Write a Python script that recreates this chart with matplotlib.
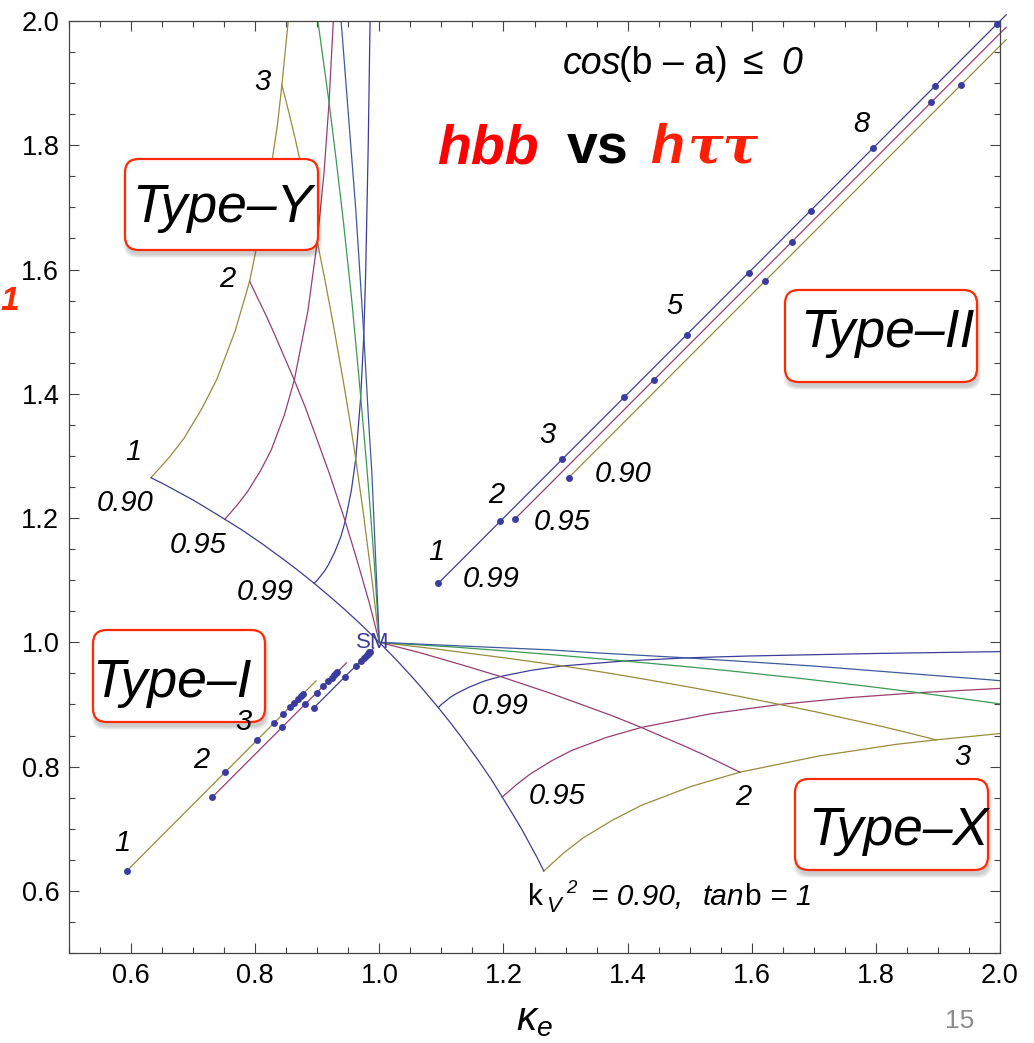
import matplotlib.pyplot as plt
from matplotlib.patches import FancyBboxPatch
from matplotlib.ticker import MultipleLocator, FormatStrFormatter

plt.rcParams['font.family'] = ['Liberation Sans', 'DejaVu Sans']
plt.rcParams['mathtext.fontset'] = 'custom'
plt.rcParams['mathtext.rm'] = 'Liberation Sans'
plt.rcParams['mathtext.it'] = 'Liberation Sans:italic'
plt.rcParams['mathtext.bf'] = 'Liberation Sans:bold'

# Mathematica-style default plot colours
BLUE = '#3d3d99'
MAGENTA = '#993d71'
OLIVE = '#998b3d'
GREEN = '#3d9954'
STEEL = '#3d5b99'
DOT = '#3c3c9e'
BOXRED = '#ff2a00'

# fixed kV^2 curves, tanb running up from 1: coupling below 1 / above 1
kv099_lo = [0.895, 0.900, 0.904, 0.912, 0.918, 0.928, 0.938, 0.945, 0.955, 0.962,
            0.970, 0.975, 0.978, 0.982, 0.985, 0.985]
kv099_hi = [1.095, 1.100, 1.105, 1.115, 1.125, 1.145, 1.170, 1.195, 1.245, 1.295,
            1.395, 1.495, 1.595, 1.795, 1.995, 2.025]
kv095_lo = [0.751, 0.771, 0.788, 0.809, 0.826, 0.847, 0.863, 0.885, 0.900, 0.911, 0.919, 0.926]
kv095_hi = [1.198, 1.221, 1.243, 1.277, 1.310, 1.366, 1.422, 1.534, 1.645, 1.757, 1.869, 2.003]
kv090_lo = [0.632, 0.661, 0.685, 0.714, 0.738, 0.768, 0.791, 0.817, 0.836, 0.843, 0.854]
kv090_hi = [1.265, 1.297, 1.328, 1.376, 1.423, 1.502, 1.581, 1.708, 1.834, 1.897, 2.008]

# fixed tanb curves, kV^2 running down from 1 (SM point)
tb1_lo = [1.000, 0.968, 0.944, 0.927, 0.895, 0.870, 0.849, 0.812, 0.780, 0.751,
          0.725, 0.700, 0.676, 0.654, 0.632]
tb1_hi = [1.000, 1.031, 1.053, 1.068, 1.095, 1.115, 1.131, 1.158, 1.180, 1.198,
          1.214, 1.229, 1.242, 1.254, 1.265]
tb2_lo = [1.000, 0.984, 0.971, 0.962, 0.945, 0.931, 0.919, 0.898, 0.880, 0.863,
          0.847, 0.832, 0.818, 0.804, 0.791]
tb2_hi = [1.000, 1.063, 1.108, 1.139, 1.195, 1.237, 1.273, 1.331, 1.380, 1.422,
          1.459, 1.494, 1.525, 1.554, 1.581]
tb3_lo = [1.000, 0.989, 0.980, 0.974, 0.962, 0.952, 0.943, 0.927, 0.913, 0.900,
          0.888, 0.876, 0.865, 0.854, 0.843]
tb3_hi = [1.000, 1.094, 1.163, 1.210, 1.295, 1.360, 1.414, 1.505, 1.580, 1.645,
          1.704, 1.758, 1.808, 1.854, 1.897]
tb4_lo = [1.000, 0.992, 0.985, 0.980, 0.970, 0.962, 0.955, 0.942, 0.930, 0.919, 0.908, 0.898]
tb4_hi = [1.000, 1.126, 1.218, 1.280, 1.395, 1.482, 1.556, 1.678, 1.780, 1.869, 1.949, 2.022]
tb5_lo = [1.000, 0.993, 0.988, 0.983, 0.975, 0.968, 0.962, 0.950, 0.940, 0.935]
tb5_hi = [1.000, 1.158, 1.272, 1.351, 1.495, 1.605, 1.697, 1.851, 1.980, 2.038]

# Type-II: points at tanb = 1, 2, 3, ...
t2_099_x = [1.095, 1.195, 1.295, 1.395, 1.495, 1.595, 1.695, 1.795, 1.895, 1.995]
t2_099_y = [1.095, 1.195, 1.295, 1.395, 1.495, 1.595, 1.695, 1.795, 1.895, 1.995]
t2_095_x = [1.218, 1.442, 1.665, 1.889]
t2_095_y = [1.198, 1.422, 1.645, 1.869]
t2_090_x = [1.305, 1.621, 1.937]
t2_090_y = [1.265, 1.581, 1.897]
t2_end_x = [2.010, 2.010, 2.010]
t2_end_y = [2.010, 1.990, 1.970]

# Type-I: points at tanb = 1 ... 10
t1_099_x = [0.895, 0.945, 0.962, 0.970, 0.975, 0.978, 0.981, 0.982, 0.984, 0.985]
t1_099_y = [0.895, 0.945, 0.962, 0.970, 0.975, 0.978, 0.981, 0.982, 0.984, 0.985]
t1_095_x = [0.731, 0.843, 0.880, 0.899, 0.910, 0.917, 0.923, 0.927, 0.930, 0.932]
t1_095_y = [0.751, 0.863, 0.900, 0.919, 0.930, 0.937, 0.943, 0.947, 0.950, 0.952]
t1_090_x = [0.593, 0.751, 0.803, 0.830, 0.845, 0.856, 0.863, 0.869, 0.874, 0.877]
t1_090_y = [0.632, 0.791, 0.843, 0.870, 0.885, 0.896, 0.903, 0.909, 0.914, 0.917]
t1_end_x = [0.991, 0.947, 0.898]
t1_end_y = [0.991, 0.967, 0.938]

W, H = 1034, 1043
AX_L, AX_T, AX_W, AX_H = 69, 21, 931, 932


def pos(xp, yp):
    # pixel position in the figure -> data coordinates
    return 0.5 + (xp - AX_L) * 1.5 / AX_W, 2.0 - (yp - AX_T) * 1.5 / AX_H


fig = plt.figure(figsize=(W / 100, H / 100), dpi=100)
ax = fig.add_axes([AX_L / W, 1 - (AX_T + AX_H) / H, AX_W / W, AX_H / H])
ax.set_xlim(0.5, 2.0)
ax.set_ylim(0.5, 2.0)

lw = 0.9
fixed_kv = [(kv099_lo, kv099_hi, BLUE), (kv095_lo, kv095_hi, MAGENTA), (kv090_lo, kv090_hi, OLIVE)]
fixed_tb = [(tb1_lo, tb1_hi, BLUE), (tb2_lo, tb2_hi, MAGENTA), (tb3_lo, tb3_hi, OLIVE),
            (tb4_lo, tb4_hi, GREEN), (tb5_lo, tb5_hi, STEEL)]
for lo, hi, col in fixed_kv + fixed_tb:
    ax.plot(lo, hi, color=col, lw=lw, zorder=2)   # Type-Y
    ax.plot(hi, lo, color=col, lw=lw, zorder=2)   # Type-X

# Type-II and Type-I lines with their tanb points
t2 = [(t2_099_x, t2_099_y, BLUE), (t2_095_x, t2_095_y, MAGENTA), (t2_090_x, t2_090_y, OLIVE)]
for i, (xs, ys, col) in enumerate(t2):
    ax.plot([xs[0], t2_end_x[i]], [ys[0], t2_end_y[i]], color=col, lw=lw, zorder=2, clip_on=False)
    ax.plot(xs, ys, 'o', color=DOT, ms=5, mew=0, zorder=3, clip_on=False)
t1 = [(t1_099_x, t1_099_y, BLUE), (t1_095_x, t1_095_y, MAGENTA), (t1_090_x, t1_090_y, OLIVE)]
for i, (xs, ys, col) in enumerate(t1):
    ax.plot([xs[0], t1_end_x[i]], [ys[0], t1_end_y[i]], color=col, lw=lw, zorder=2)
    ax.plot(xs, ys, 'o', color=DOT, ms=5, mew=0, zorder=3)

# axes frame and ticks
for sp in ax.spines.values():
    sp.set_color('#444444')
    sp.set_linewidth(0.9)
for axis in (ax.xaxis, ax.yaxis):
    axis.set_major_locator(MultipleLocator(0.2))
    axis.set_minor_locator(MultipleLocator(0.05))
    axis.set_major_formatter(FormatStrFormatter('%.1f'))
ax.tick_params(which='both', direction='in', top=True, right=True, color='#444444', width=0.8)
ax.tick_params(which='major', length=7, labelsize=19.5, pad=7)
ax.tick_params(which='minor', length=4)
ax.set_xlabel(r'$\kappa_e$', fontsize=29, labelpad=9)


def type_box(x0, y0, x1, y1, label, xt, yt):
    ax0, ay1 = pos(x0, y0)
    ax1, ay0 = pos(x1, y1)
    for k in range(4):
        d = 0.0015 * k
        sh = FancyBboxPatch((ax0 + 0.002 - d, ay0 - 0.008 - d), ax1 - ax0 + 2 * d, ay1 - ay0 + 2 * d,
                            boxstyle='round,pad=0,rounding_size=0.022', fc='#000000',
                            ec='none', alpha=0.05, zorder=4, clip_on=False)
        ax.add_patch(sh)
    box = FancyBboxPatch((ax0, ay0), ax1 - ax0, ay1 - ay0,
                         boxstyle='round,pad=0,rounding_size=0.022', fc='white',
                         ec=BOXRED, lw=1.6, zorder=5, clip_on=False)
    ax.add_patch(box)
    tx, ty = pos(xt, yt)
    ax.text(tx, ty, label, fontsize=38.5, style='italic', ha='center', va='baseline', zorder=6)


type_box(125, 159, 318, 250, 'Type\u2013Y', 222, 222)
type_box(93, 630, 265, 722, 'Type\u2013I', 172, 697)
type_box(785, 290, 977, 382, 'Type\u2013II', 887, 347)
type_box(795, 779, 988, 870, 'Type\u2013X', 898, 845)

# tanb and kV^2 annotations
labels = [
    ('3', 262, 82), ('2', 227, 279), ('1', 133, 452), ('0.90', 125, 503),
    ('0.95', 198, 545), ('0.99', 265, 592),
    ('1', 122, 843), ('2', 201, 760), ('3', 243, 722),
    ('1', 436, 552), ('0.99', 491, 579), ('2', 496, 495), ('0.95', 562, 522),
    ('3', 547, 435), ('0.90', 623, 474), ('5', 674, 306), ('8', 861, 124),
    ('0.99', 500, 706), ('0.95', 557, 796), ('2', 743, 797), ('3', 962, 757),
]
for txt, xp, yp in labels:
    x, y = pos(xp, yp)
    ax.text(x, y, txt, fontsize=21, style='italic', ha='center', va='center', zorder=7)

x, y = pos(373, 642)
ax.text(x, y, 'SM', fontsize=16, color=BLUE, ha='center', va='center', zorder=7)


def put(xp, yp, txt, **kw):
    x, y = pos(xp, yp)
    ax.text(x, y, txt, ha='left', va='baseline', zorder=7, **kw)


# kV^2 / tanb note, mixed upright and italic pieces
put(528, 905, 'k', fontsize=21.5)
put(546, 912, 'V', fontsize=16, style='italic')
put(566, 893, '2', fontsize=13.5, style='italic')
put(591, 905, '= 0.90,', fontsize=21.5, style='italic')
put(703, 905, 'tan', fontsize=21.5, style='italic')
put(744, 905, 'b', fontsize=21.5)
put(770, 905, '= 1', fontsize=21.5, style='italic')

# cos(b - a) condition
put(563, 74, 'cos', fontsize=27, style='italic')
put(619, 74, '(b \u2013 a)', fontsize=27)
put(743, 74, '\u2264', fontsize=27)
put(781, 74, '0', fontsize=27, style='italic')

# title
bl = 163
put(437, bl, 'hbb', fontsize=40, weight='bold', style='italic', color='#ff0000')
put(567, bl, 'vs', fontsize=40, weight='bold', color='black')
put(650, bl, 'h', fontsize=40, weight='bold', style='italic', color='#ff1e00')
put(688, bl, '\u03c4\u03c4', fontsize=38, weight='bold', style='italic', color='#ff1e00',
    family=['DejaVu Serif'])

fig.text(0, 1 - 310 / H, '1', fontsize=24, weight='bold', style='italic', color=BOXRED,
         ha='left', va='baseline')
fig.text(960 / W, 1 - 1028 / H, '15', fontsize=19, color='#8c8c8c', ha='center', va='baseline',
         family=['Liberation Sans Narrow', 'Liberation Sans'])

fig.savefig('out.png', dpi=100)
